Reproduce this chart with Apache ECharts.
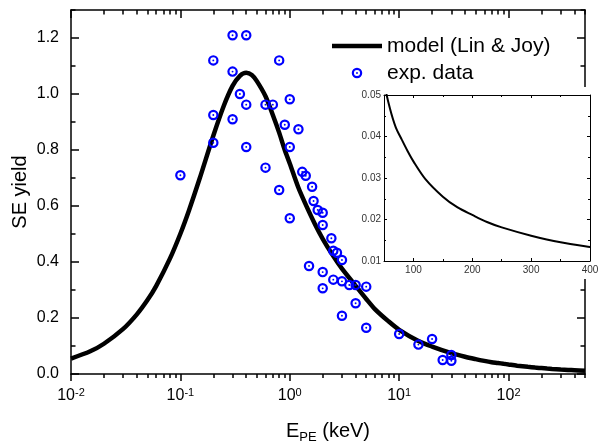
<!DOCTYPE html>
<html><head><meta charset="utf-8">
<script src="https://cdn.jsdelivr.net/npm/echarts@6/dist/echarts.min.js"></script>
<style>html,body{margin:0;padding:0;background:#fff}#c{width:598px;height:443px}</style>
</head><body><div id="c"></div>
<script>
// model curve (Lin & Joy)
const modelE = [0.01,0.015,0.02,0.03,0.04,0.05,0.06,0.08,0.1,0.12,0.15,0.2,0.25,0.3,0.35,0.4,0.45,0.5,0.6,0.7,0.8,0.9,1,1.2,1.4,1.7,2,2.5,3,4,5,6,8,10,15,20,30,40,50,60,70,80,90,100,120,150,175,200,225,250,300,350,400,500];
const modelYield = [0.055,0.081,0.108,0.161,0.213,0.264,0.314,0.411,0.501,0.585,0.698,0.851,0.959,1.029,1.065,1.076,1.068,1.046,0.992,0.925,0.862,0.800,0.752,0.665,0.605,0.535,0.483,0.421,0.376,0.315,0.268,0.232,0.188,0.158,0.118,0.098,0.0745,0.0614,0.053,0.0468,0.0422,0.0393,0.0365,0.0340,0.0298,0.0255,0.0229,0.0211,0.0194,0.0181,0.0161,0.0145,0.0134,0.0114];
// experimental data
const expE = [0.1,0.2,0.2,0.2,0.3,0.3,0.3,0.35,0.4,0.4,0.4,0.6,0.6,0.7,0.8,0.8,0.9,1.0,1.0,1.0,1.2,1.3,1.4,1.5,1.6,1.65,1.8,2.0,2.0,2.0,2.0,2.4,2.5,2.5,2.7,3.0,3.0,3.0,3.5,4.0,4.0,5.0,5.0,10,15,20,25,30,30];
const expYield = [0.71,1.12,0.925,0.826,1.21,1.08,0.91,1.0,1.21,0.962,0.811,0.962,0.737,0.962,1.12,0.657,0.89,0.981,0.811,0.556,0.874,0.722,0.708,0.386,0.669,0.618,0.586,0.576,0.532,0.364,0.306,0.485,0.44,0.337,0.433,0.407,0.331,0.208,0.318,0.318,0.2525,0.312,0.165,0.143,0.105,0.125,0.05,0.068,0.0475];
// ticks
const xMajorTicks = [0.01,0.1,1,10,100];
const xMinorTicks = [0.02,0.03,0.04,0.05,0.06,0.07,0.08,0.09,0.2,0.3,0.4,0.5,0.6,0.7,0.8,0.9,2,3,4,5,6,7,8,9,20,30,40,50,60,70,80,90,200,300,400,500];
const yMajorTicks = [0,0.2,0.4,0.6,0.8,1.0,1.2];
const yMinorTicks = [0.1,0.3,0.5,0.7,0.9,1.1,1.3];
const insetXMajor = [100,200,300,400];
const insetXMinor = [50,150,250,350];
const insetYMajor = [0.01,0.02,0.03,0.04,0.05];
const insetYMinor = [0.015,0.025,0.035,0.045];
const seriesNames = ['model (Lin & Joy)','exp. data'];
const xTitle = '{a|E}{s|PE}{a| (keV)}';
const yTitle = 'SE yield';

const FONT = 'Liberation Sans, Arial, sans-serif';
const ring = 'path://M0,10A10,10,0,1,1,20,10A10,10,0,1,1,0,10ZM4.2,10A5.8,5.8,0,1,0,15.8,10A5.8,5.8,0,1,0,4.2,10ZM8.2,10A1.8,1.8,0,1,1,11.8,10A1.8,1.8,0,1,1,8.2,10Z';
const bar = 'path://M0,0H50V4.5H0Z';

function ax(o) {
  const a = {
    gridIndex: o.grid, position: o.pos, type: o.type, min: o.min, max: o.max,
    z: o.z || 0,
    axisLine: {show: !!o.line, onZero: false, lineStyle: {color: '#000', width: o.lw || 1.5}},
    axisTick: {show: true, inside: !!o.inside, length: o.len, customValues: o.ticks, lineStyle: {color: '#000', width: o.lw || 1.5}},
    axisLabel: {show: false},
    splitLine: {show: false}
  };
  if (o.type === 'log') a.logBase = 10;
  if (o.labels) a.axisLabel = Object.assign({show: true, customValues: o.ticks}, o.labels);
  if (o.name) Object.assign(a, o.name);
  return a;
}

const supFmt = v => '{b|10}{s|' + Math.round(Math.log10(v)) + '}';

const chart = echarts.init(document.getElementById('c'), null, {renderer: 'canvas'});
chart.setOption({
  animation: false,
  backgroundColor: '#fff',
  textStyle: {fontFamily: FONT},
  grid: [
    {left: 71, top: 10, width: 514, height: 364, containLabel: false, outerBoundsMode: 'none'},
    {left: 384, top: 95, width: 206, height: 166, containLabel: false, outerBoundsMode: 'none', z: 10}
  ],
  graphic: [{type: 'rect', silent: true, z: 5, shape: {x: 357, y: 87, width: 241, height: 192}, style: {fill: '#fff'}}],
  legend: {
    orient: 'vertical', left: 332, top: 34, padding: 0, itemGap: 3,
    itemWidth: 50, itemHeight: 10.5,
    textStyle: {fontFamily: FONT, fontSize: 21, lineHeight: 24, color: '#000'},
    data: [
      {name: seriesNames[0], icon: bar, itemStyle: {color: '#000'}},
      {name: seriesNames[1], icon: ring, itemStyle: {color: '#0000ff'}}
    ]
  },
  xAxis: [
    ax({grid: 0, pos: 'bottom', type: 'log', min: 0.01, max: 500, line: true, len: 7, ticks: xMajorTicks,
        labels: {margin: 13, formatter: supFmt, rich: {
          b: {fontSize: 16, lineHeight: 18, color: '#000', fontFamily: FONT},
          s: {fontSize: 11, lineHeight: 11, verticalAlign: 'top', color: '#000', fontFamily: FONT}}},
        name: {name: xTitle, nameLocation: 'middle', nameGap: 44, nameTextStyle: {rich: {
          a: {fontSize: 20, lineHeight: 26, color: '#000', fontFamily: FONT},
          s: {fontSize: 13, lineHeight: 10, verticalAlign: 'bottom', color: '#000', fontFamily: FONT}}}}}),
    ax({grid: 0, pos: 'bottom', type: 'log', min: 0.01, max: 500, len: 4, ticks: xMinorTicks}),
    ax({grid: 0, pos: 'top', type: 'log', min: 0.01, max: 500, line: true, inside: true, len: 8, ticks: xMajorTicks}),
    ax({grid: 0, pos: 'top', type: 'log', min: 0.01, max: 500, inside: true, len: 4.5, ticks: xMinorTicks}),
    ax({grid: 1, pos: 'bottom', type: 'value', min: 50, max: 400, line: true, lw: 1, inside: true, len: 3, ticks: insetXMajor, z: 10,
        labels: {margin: 4, fontSize: 10, color: '#333', fontFamily: FONT}}),
    ax({grid: 1, pos: 'bottom', type: 'value', min: 50, max: 400, lw: 1, inside: true, len: 2, ticks: insetXMinor, z: 10}),
    ax({grid: 1, pos: 'top', type: 'value', min: 50, max: 400, line: true, lw: 1, inside: true, len: 3, ticks: insetXMajor, z: 10}),
    ax({grid: 1, pos: 'top', type: 'value', min: 50, max: 400, lw: 1, inside: true, len: 2, ticks: insetXMinor, z: 10})
  ],
  yAxis: [
    ax({grid: 0, pos: 'left', type: 'value', min: 0, max: 1.3, line: true, inside: true, len: 8, ticks: yMajorTicks,
        labels: {margin: 12, fontSize: 16, color: '#000', fontFamily: FONT, formatter: v => v.toFixed(1)},
        name: {name: yTitle, nameLocation: 'middle', nameGap: 41, nameMoveOverlap: false,
               nameTextStyle: {fontSize: 20, color: '#000', fontFamily: FONT}}}),
    ax({grid: 0, pos: 'left', type: 'value', min: 0, max: 1.3, inside: true, len: 4.5, ticks: yMinorTicks}),
    ax({grid: 0, pos: 'right', type: 'value', min: 0, max: 1.3, line: true, inside: true, len: 8, ticks: yMajorTicks}),
    ax({grid: 0, pos: 'right', type: 'value', min: 0, max: 1.3, inside: true, len: 4.5, ticks: yMinorTicks}),
    ax({grid: 1, pos: 'left', type: 'value', min: 0.01, max: 0.05, line: true, lw: 1, inside: true, len: 3, ticks: insetYMajor, z: 10,
        labels: {margin: 3, fontSize: 10, color: '#333', fontFamily: FONT, formatter: v => v.toFixed(2)}}),
    ax({grid: 1, pos: 'left', type: 'value', min: 0.01, max: 0.05, lw: 1, inside: true, len: 2, ticks: insetYMinor, z: 10}),
    ax({grid: 1, pos: 'right', type: 'value', min: 0.01, max: 0.05, line: true, lw: 1, inside: true, len: 3, ticks: insetYMajor, z: 10}),
    ax({grid: 1, pos: 'right', type: 'value', min: 0.01, max: 0.05, lw: 1, inside: true, len: 2, ticks: insetYMinor, z: 10})
  ],
  series: [
    {name: seriesNames[0], type: 'line', xAxisIndex: 0, yAxisIndex: 0, z: 2,
     data: modelE.map((e, i) => [e, modelYield[i]]), symbol: 'none', smooth: 0.3,
     lineStyle: {color: '#000', width: 4.5}, itemStyle: {color: '#000'}},
    {name: seriesNames[1], type: 'scatter', xAxisIndex: 0, yAxisIndex: 0, z: 3,
     data: expE.map((e, i) => [e, expYield[i]]), symbol: ring, symbolSize: 10.5,
     itemStyle: {color: '#0000ff', opacity: 1}},
    {type: 'line', xAxisIndex: 4, yAxisIndex: 4, z: 10, clip: true,
     data: modelE.map((e, i) => [e, modelYield[i]]), symbol: 'none', smooth: 0.3,
     lineStyle: {color: '#000', width: 2}}
  ]
});
</script></body></html>
